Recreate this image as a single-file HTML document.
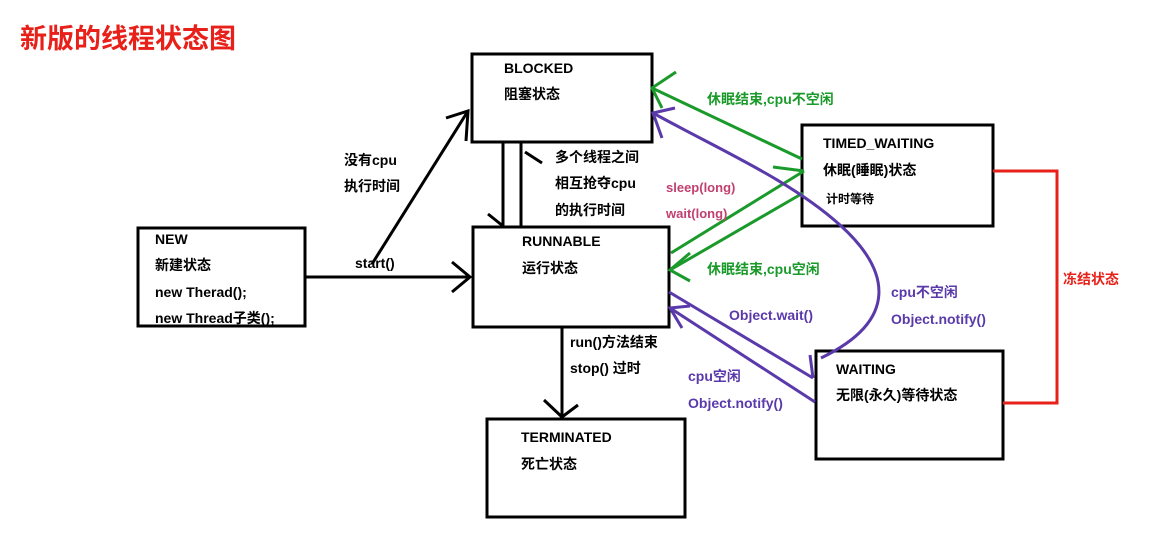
<!DOCTYPE html>
<html><head><meta charset="utf-8"><style>
body{margin:0;background:#fff;}
svg text{font-family:"Liberation Sans","Noto Sans CJK SC",sans-serif;font-weight:bold;}
</style></head><body>
<svg width="1152" height="550" viewBox="0 0 1152 550" xmlns="http://www.w3.org/2000/svg">
<text x="20" y="48" font-size="27" fill="#e8201a" font-weight="normal">新版的线程状态图</text>
<g fill="none" stroke="#000" stroke-width="3">
<rect x="472" y="54" width="180" height="88"/>
<rect x="473" y="227" width="196" height="100"/>
<rect x="138" y="228" width="167" height="98"/>
<rect x="487" y="419" width="198" height="98"/>
<rect x="802" y="125" width="191" height="101"/>
<rect x="816" y="351" width="187" height="108"/>
<!-- NEW -> RUNNABLE -->
<line x1="305" y1="277" x2="470" y2="277"/>
<polyline points="452,262 470,277 452,292"/>
<!-- start -> BLOCKED -->
<line x1="372" y1="264" x2="468" y2="111"/>
<polyline points="446,118 468,111 466,141"/>
<!-- BLOCKED <-> RUNNABLE -->
<line x1="503" y1="142" x2="503" y2="226"/>
<polyline points="488,214 503,226"/>
<line x1="521" y1="142" x2="521" y2="226"/>
<line x1="525" y1="152" x2="542" y2="163"/>
<!-- RUNNABLE -> TERMINATED -->
<line x1="562" y1="327" x2="562" y2="417"/>
<polyline points="544,400 562,417 578,405"/>
</g>
<g fill="none" stroke="#1a9a2a" stroke-width="3">
<line x1="802" y1="159" x2="652" y2="88"/>
<polyline points="676,72 652,88 662,108"/>
<line x1="671" y1="253" x2="804" y2="171"/>
<line x1="773" y1="167" x2="804" y2="171"/>
<line x1="803" y1="193" x2="670" y2="270"/>
<polyline points="690,253 670,270 690,281"/>
</g>
<g fill="none" stroke="#5a3aaa" stroke-width="3">
<line x1="669" y1="292" x2="813" y2="378"/>
<line x1="810" y1="355" x2="813" y2="378"/>
<line x1="815" y1="402" x2="670" y2="308"/>
<polyline points="682,328 670,308 690,306"/>
<path d="M821,358 C900,320 890,270 840,225 C790,180 720,150 653,113"/>
<polyline points="675,108 653,113 662,138"/>
</g>
<polyline points="993,171 1057,171 1057,403 1003,403" fill="none" stroke="#e8201a" stroke-width="3"/>
<g font-size="14" fill="#000">
<text x="504" y="73">BLOCKED</text>
<text x="504" y="99">阻塞状态</text>
<text x="522" y="246">RUNNABLE</text>
<text x="522" y="273">运行状态</text>
<text x="155" y="244">NEW</text>
<text x="155" y="270">新建状态</text>
<text x="155" y="297">new Therad();</text>
<text x="155" y="323">new Thread子类();</text>
<text x="521" y="442">TERMINATED</text>
<text x="521" y="469">死亡状态</text>
<text x="823" y="148">TIMED_WAITING</text>
<text x="823" y="175">休眠(睡眠)状态</text>
<text x="826" y="203" font-size="12">计时等待</text>
<text x="836" y="374">WAITING</text>
<text x="836" y="400">无限(永久)等待状态</text>
<text x="344" y="165">没有cpu</text>
<text x="344" y="191">执行时间</text>
<text x="355" y="268">start()</text>
<text x="555" y="162">多个线程之间</text>
<text x="555" y="188">相互抢夺cpu</text>
<text x="555" y="215">的执行时间</text>
<text x="570" y="347">run()方法结束</text>
<text x="570" y="373">stop() 过时</text>
</g>
<g font-size="13" fill="#c04070">
<text x="666" y="192">sleep(long)</text>
<text x="666" y="218">wait(long)</text>
</g>
<g font-size="14" fill="#1a9a2a">
<text x="707" y="104">休眠结束,cpu不空闲</text>
<text x="707" y="274">休眠结束,cpu空闲</text>
</g>
<g font-size="14" fill="#5a3aaa">
<text x="729" y="320">Object.wait()</text>
<text x="688" y="381">cpu空闲</text>
<text x="688" y="408">Object.notify()</text>
<text x="891" y="297">cpu不空闲</text>
<text x="891" y="324">Object.notify()</text>
</g>
<text x="1063" y="284" font-size="14" fill="#e8201a">冻结状态</text>
</svg>
</body></html>
